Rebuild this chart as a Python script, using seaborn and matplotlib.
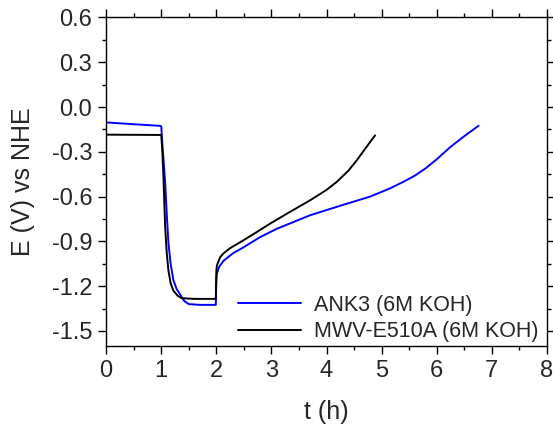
import numpy as np
import pandas as pd
import matplotlib
matplotlib.use("Agg")
import matplotlib.pyplot as plt
from matplotlib.ticker import MultipleLocator, FuncFormatter
import seaborn as sns

# ANK3 (6M KOH) - courbe bleue
t_ank3 = [0, 0.5, 0.98, 1.0, 1.02, 1.05, 1.07, 1.10, 1.13, 1.17, 1.22, 1.28,
          1.35, 1.42, 1.50, 1.7, 1.99, 2.0, 2.01, 2.05, 2.13, 2.3, 2.49, 2.8,
          3.1, 3.4, 3.7, 4.0, 4.31, 4.79, 5.15, 5.4, 5.6, 5.8, 6.0, 6.24,
          6.5, 6.76]
e_ank3 = [-0.103, -0.115, -0.126, -0.13, -0.25, -0.40, -0.50, -0.72, -0.91,
          -1.05, -1.16, -1.22, -1.26, -1.30, -1.32, -1.325, -1.325, -1.15,
          -1.115, -1.07, -1.03, -0.98, -0.94, -0.87, -0.815, -0.77, -0.725,
          -0.69, -0.654, -0.60, -0.545, -0.50, -0.46, -0.41, -0.35, -0.27,
          -0.195, -0.125]

# MWV-E510A (6M KOH) - courbe noire
t_mwv = [0, 0.99, 1.0, 1.02, 1.04, 1.07, 1.10, 1.13, 1.17, 1.22, 1.30, 1.37,
         1.6, 1.99, 2.0, 2.01, 2.07, 2.13, 2.25, 2.49, 2.7, 2.98, 3.3, 3.7,
         4.0, 4.19, 4.4, 4.55, 4.7, 4.88]
e_mwv = [-0.185, -0.187, -0.19, -0.30, -0.47, -0.80, -0.98, -1.095, -1.18,
         -1.23, -1.265, -1.28, -1.285, -1.285, -1.10, -1.06, -1.005, -0.98,
         -0.945, -0.893, -0.845, -0.78, -0.71, -0.625, -0.555, -0.50, -0.425,
         -0.356, -0.28, -0.19]

labels = ["ANK3 (6M KOH)", "MWV-E510A (6M KOH)"]
colors = ["#0000ff", "#000000"]

df = pd.concat([
    pd.DataFrame({"t": t_ank3, "E": e_ank3, "serie": labels[0]}),
    pd.DataFrame({"t": t_mwv, "E": e_mwv, "serie": labels[1]}),
], ignore_index=True)

sns.set_style("ticks")
plt.rcParams['font.family'] = ['Liberation Sans', 'DejaVu Sans']

fig = plt.figure(figsize=(5.53, 4.26), dpi=100)
ax = fig.add_axes([0.192, 0.188, 0.797, 0.771])

sns.lineplot(data=df, x="t", y="E", hue="serie", palette=colors,
             sort=False, estimator=None, linewidth=1.4, ax=ax)

ax.set_xlim(0, 8)
ax.set_ylim(-1.6, 0.6)
ax.xaxis.set_major_locator(MultipleLocator(1))
ax.xaxis.set_minor_locator(MultipleLocator(0.5))
ax.yaxis.set_major_locator(MultipleLocator(0.3))
ax.yaxis.set_minor_locator(MultipleLocator(0.15))
ax.yaxis.set_major_formatter(FuncFormatter(lambda v, p: f"{v + 0.0:.1f}".replace("-0.0", "0.0")))

ax.tick_params(which='both', direction='out', top=True, right=True,
               labelsize=17, color='black', width=1)
ax.tick_params(which='major', length=6, pad=4)
ax.tick_params(which='minor', length=3)
for s in ax.spines.values():
    s.set_linewidth(1)
    s.set_color('black')

ax.set_xlabel("t (h)", fontsize=18, labelpad=13)
ax.set_ylabel("E (V) vs NHE", fontsize=18, labelpad=12)

ax.legend(frameon=False, loc='lower right', fontsize=15.5, handlelength=2.9,
          handletextpad=0.6, borderaxespad=0.0, labelspacing=0.25,
          bbox_to_anchor=(1.0, -0.015))

fig.savefig("out.png", dpi=100)
